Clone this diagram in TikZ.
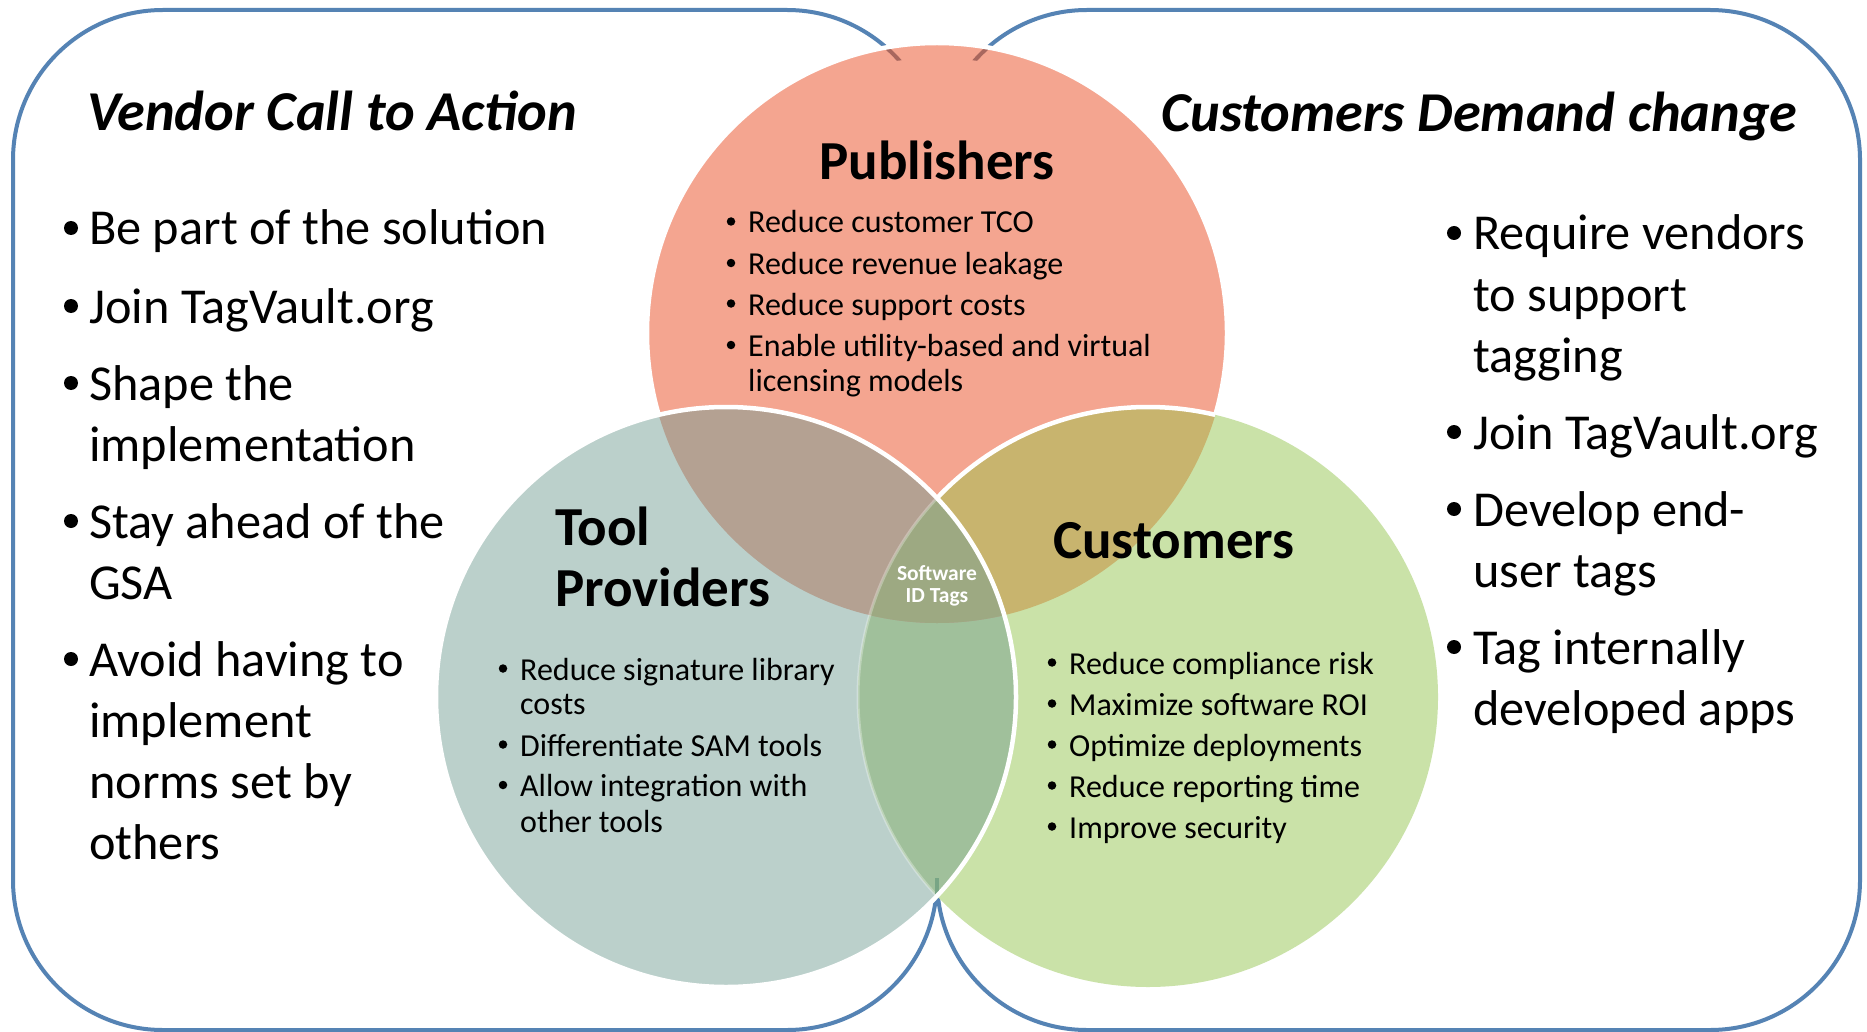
\documentclass[tikz,border=0pt]{standalone}
\usepackage{fontspec}
\setmainfont{Carlito}
\definecolor{rectblue}{HTML}{5583B4}
\definecolor{pubc}{HTML}{F4A590}
\definecolor{toolc}{HTML}{BBD0CB}
\definecolor{custc}{HTML}{CAE2A8}
\definecolor{ptc}{HTML}{B4A192}
\definecolor{pcc}{HTML}{C8B46E}
\definecolor{tcc}{HTML}{A0C09B}
\definecolor{ptcc}{HTML}{9DA982}
\definecolor{markred}{HTML}{A8675E}
\definecolor{markgreen}{HTML}{78A585}
\begin{document}
\begin{tikzpicture}[x=1pt,y=-1pt,
  frame/.style={draw=rectblue, line width=4pt, rounded corners=150pt},
  ring/.style={draw=white, line width=4.5pt},
  ttl/.style={font=\fontsize{56.3}{68}\selectfont\bfseries\itshape, anchor=base west, inner sep=0pt},
  head/.style={font=\fontsize{55}{66}\selectfont\bfseries, anchor=base west, inner sep=0pt},
  big/.style={font=\fontsize{50.3}{60}\selectfont, anchor=base west, inner sep=0pt},
  small/.style={font=\fontsize{32}{38}\selectfont, anchor=base west, inner sep=0pt},
  tag/.style={font=\fontsize{21.5}{25}\selectfont\bfseries, text=white, anchor=base, inner sep=0pt},
  bigbul/.style={circle, fill=black, inner sep=0pt, minimum size=14pt},
  smallbul/.style={circle, fill=black, inner sep=0pt, minimum size=8.5pt},
]
\useasboundingbox (0,0) rectangle (1867,1032);
\fill[white] (0,0) rectangle (1867,1032);

\coordinate (P) at (937,333);
\coordinate (T) at (726,697);
\coordinate (C) at (1148,697);

% side frames
\draw[frame] (13,10) rectangle (937,1030);
\draw[frame] (937,10) rectangle (1860,1030);

% publishers circle with the frame lines showing near its rim
\fill[pubc] (P) circle (290);
\begin{scope}
  \clip (P) circle (290);
  \draw[frame, draw=markred] (13,10) rectangle (937,1030);
  \draw[frame, draw=markred] (937,10) rectangle (1860,1030);
  \fill[pubc] (P) circle (275);
\end{scope}
\draw[ring] (P) circle (290);

% other circles
\fill[toolc] (T) circle (290);
\fill[custc] (C) circle (290);
\begin{scope}
  \clip (P) circle (290);
  \fill[pcc] (C) circle (290);
\end{scope}
\begin{scope}
  \clip (T) circle (290);
  \fill[tcc] (C) circle (290);
\end{scope}
% customers outline over publishers
\begin{scope}
  \clip (P) circle (290);
  \draw[ring] (C) circle (290);
\end{scope}
% refill publishers/tool overlap (hides customers outline there)
\begin{scope}
  \clip (P) circle (290);
  \clip (T) circle (290);
  \fill[ptc] (T) circle (290);
  \clip (C) circle (290);
  \fill[ptcc] (C) circle (290);
\end{scope}
% faint customers outline seen through tool circle
\begin{scope}
  \clip (T) circle (290);
  \draw[draw=white, line width=3pt, opacity=0.3] (C) circle (290);
\end{scope}
\draw[draw=markgreen, line width=4pt] (937,878) -- (937,894);
\draw[ring] (T) circle (290);

% titles
\node[ttl] (lt) at (87,131) {Vendor Call to Action};
\node[ttl] (rt) at (1161,132) {Customers Demand change};

% left bullets
\node[bigbul] (lb1) at (71,228) {};
\node[big] (l1) at (89,245) {Be part of the solution};
\node[bigbul] (lb2) at (71,306) {};
\node[big] (l2) at (89,323) {Join TagVault.org};
\node[bigbul] (lb3) at (71,383) {};
\node[big] (l3a) at (89,400) {Shape the};
\node[big] (l3b) at (89,461) {implementation};
\node[bigbul] (lb4) at (71,521) {};
\node[big] (l4a) at (89,538) {Stay ahead of the};
\node[big] (l4b) at (89,599) {GSA};
\node[bigbul] (lb5) at (71,659) {};
\node[big] (l5a) at (89,676) {Avoid having to};
\node[big] (l5b) at (89,737) {implement};
\node[big] (l5c) at (89,798) {norms set by};
\node[big] (l5d) at (89,859) {others};

% right bullets
\node[bigbul] (rb1) at (1454,233) {};
\node[big] (r1a) at (1473,250) {Require vendors};
\node[big] (r1b) at (1473,311) {to support};
\node[big] (r1c) at (1473,372) {tagging};
\node[bigbul] (rb2) at (1454,432) {};
\node[big] (r2) at (1473,449) {Join TagVault.org};
\node[bigbul] (rb3) at (1454,509) {};
\node[big] (r3a) at (1473,526) {Develop end-};
\node[big] (r3b) at (1473,587) {user tags};
\node[bigbul] (rb4) at (1454,647) {};
\node[big] (r4a) at (1473,664) {Tag internally};
\node[big] (r4b) at (1473,725) {developed apps};

% publishers
\node[head, anchor=base] (ph) at (937,180) {Publishers};
\node[smallbul] (pb1) at (731,221.5) {};
\node[small] (p1) at (748,233) {Reduce customer TCO};
\node[smallbul] (pb2) at (731,263) {};
\node[small] (p2) at (748,274.5) {Reduce revenue leakage};
\node[smallbul] (pb3) at (731,303.5) {};
\node[small] (p3) at (748,315) {Reduce support costs};
\node[smallbul] (pb4) at (731,345) {};
\node[small] (p4a) at (748,356.5) {Enable utility-based and virtual};
\node[small] (p4b) at (748,391) {licensing models};

% tool providers
\node[head] (th1) at (555,545) {Tool};
\node[head] (th2) at (555,606) {Providers};
\node[smallbul] (tb1) at (503,668.5) {};
\node[small] (t1a) at (520,680) {Reduce signature library};
\node[small] (t1b) at (520,714.5) {costs};
\node[smallbul] (tb2) at (503,744.5) {};
\node[small] (t2) at (520,756) {Differentiate SAM tools};
\node[smallbul] (tb3) at (503,785) {};
\node[small] (t3a) at (520,796.5) {Allow integration with};
\node[small] (t3b) at (520,832) {other tools};

% customers
\node[head] (ch) at (1053,558) {Customers};
\node[smallbul] (cb1) at (1052,662.5) {};
\node[small] (c1) at (1069,674) {Reduce compliance risk};
\node[smallbul] (cb2) at (1052,703.5) {};
\node[small] (c2) at (1069,715) {Maximize software ROI};
\node[smallbul] (cb3) at (1052,744.5) {};
\node[small] (c3) at (1069,756) {Optimize deployments};
\node[smallbul] (cb4) at (1052,785.5) {};
\node[small] (c4) at (1069,797) {Reduce reporting time};
\node[smallbul] (cb5) at (1052,826.5) {};
\node[small] (c5) at (1069,838) {Improve security};

% centre
\node[tag] (s1) at (937,580) {Software};
\node[tag] (s2) at (937,602) {ID Tags};
\end{tikzpicture}
\end{document}
